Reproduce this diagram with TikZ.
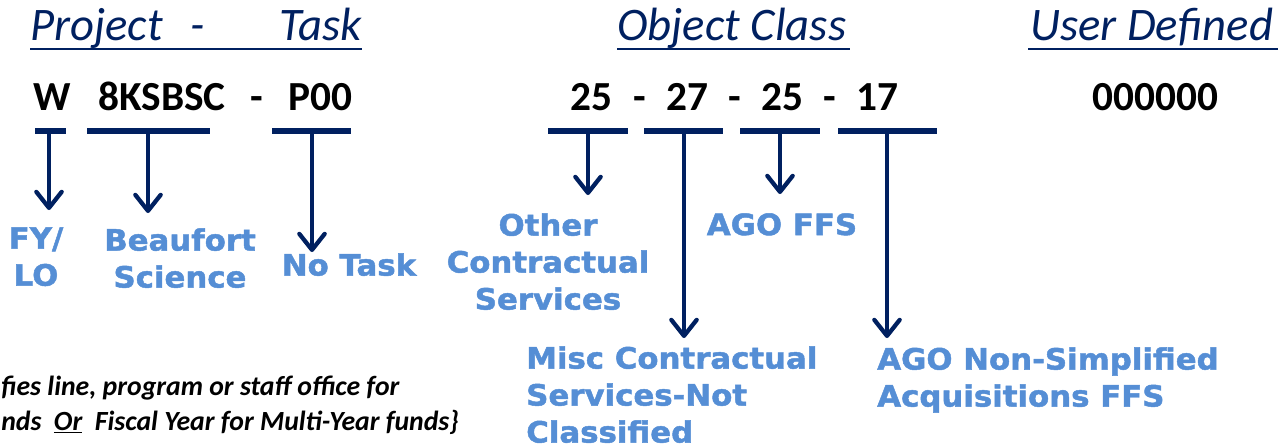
\documentclass[tikz,border=0pt]{standalone}
\usepackage{fontspec}
\setmainfont{Carlito}
\newfontfamily\blk{DejaVu Sans}[FakeStretch=1.05,BoldFeatures={FakeBold=1.6}]
\usetikzlibrary{arrows.meta}
\definecolor{navy}{HTML}{002060}
\definecolor{lblue}{HTML}{558ED5}
\begin{document}
\begin{tikzpicture}[x=0.75pt,y=-0.75pt,
 hdr/.style={inner sep=0,anchor=base west,text=navy,font=\fontsize{35}{42}\selectfont\itshape},
 code/.style={inner sep=0,anchor=base west,font=\fontsize{31}{37}\selectfont\bfseries},
 lbl/.style={inner sep=0,text=lblue,font=\blk\bfseries\fontsize{22}{27.75}\selectfont},
 bar/.style={navy,line width=4pt},
 uline/.style={navy,line width=2pt},
 arr/.style={navy,line width=3.2pt,-{Straight Barb[length=12pt,width=19pt,line join=round,line cap=round]}},
 note/.style={inner sep=0,anchor=base west,font=\fontsize{20.8}{25}\selectfont\bfseries\itshape}]
\useasboundingbox (0,0) rectangle (1282,447);

% headers
\node[hdr] (hproj) at (30,40) {Project};
\node[hdr] (hdash) at (190,40) {-};
\node[hdr,anchor=base east] (htask) at (362,40) {Task};
\draw[uline] (30,49) -- (362,49);
\node[hdr] (hobj) at (617,40) {Object Class};
\draw[uline] (617,49) -- (850,49);
\node[hdr] (huser) at (1030,40) {User Defined};
\draw[uline] (1028,49) -- (1278,49);

% codes
\node[code] (cw) at (33,110) {W};
\node[code] (cproj) at (98,110) {8KSBSC};
\node[code] (cd1) at (250,110) {-};
\node[code] (ctask) at (288,110) {P00};
\node[code] (o1) at (570,110) {25};
\node[code] (cd2) at (633,110) {-};
\node[code] (o2) at (666,110) {27};
\node[code] (cd3) at (728,110) {-};
\node[code] (o3) at (761,110) {25};
\node[code] (cd4) at (823,110) {-};
\node[code] (o4) at (856,110) {17};
\node[code] (cu) at (1092,110) {000000};

% bars
\draw[bar] (35,131) -- (66,131);
\draw[bar] (87,131) -- (210,131);
\draw[bar] (272,131) -- (351,131);
\draw[bar] (548,131) -- (628,131);
\draw[bar] (644,131) -- (723,131);
\draw[bar] (740,131) -- (820,131);
\draw[bar] (838,131) -- (937,131);

% arrow coordinates
\coordinate (sW) at (49,131);  \coordinate (tW) at (49,210);
\coordinate (sP) at (148,131); \coordinate (tP) at (148,213);
\coordinate (sT) at (312,131); \coordinate (tT) at (312,252);
\coordinate (s1) at (588,131); \coordinate (t1) at (588,195);
\coordinate (s2) at (684,131); \coordinate (t2) at (684,338);
\coordinate (s3) at (780,131); \coordinate (t3) at (780,194);
\coordinate (s4) at (887,131); \coordinate (t4) at (887,338);
\draw[arr] (sW) -- (tW);
\draw[arr] (sP) -- (tP);
\draw[arr] (sT) -- (tT);
\draw[arr] (s1) -- (t1);
\draw[arr] (s2) -- (t2);
\draw[arr] (s3) -- (t3);
\draw[arr] (s4) -- (t4);

% labels
\node[lbl,align=center,anchor=north] (lfy) at (36,227) {FY/\\LO};
\node[lbl,align=center,anchor=north] (lbs) at (180,228) {Beaufort\\Science};
\node[lbl,align=center,anchor=north] (lnt) at (349,253) {No Task};
\node[lbl,align=center,anchor=north] (locs) at (548,213) {Other\\Contractual\\Services};
\node[lbl,align=center,anchor=north] (lago) at (782,213) {AGO FFS};
\node[lbl,align=left,anchor=north west] (lmisc) at (526,346) {Misc Contractual\\Services-Not\\Classified};
\node[lbl,align=left,anchor=north west] (lnon) at (877,347) {AGO Non-Simplified\\Acquisitions FFS};

% note
\node[note] (n1) at (1,395) {fies line, program or staff office for};
\node[note] (n2) at (1,430) {nds\ \ \underline{Or}\ \ Fiscal Year for Multi-Year funds\}};
\end{tikzpicture}
\end{document}
